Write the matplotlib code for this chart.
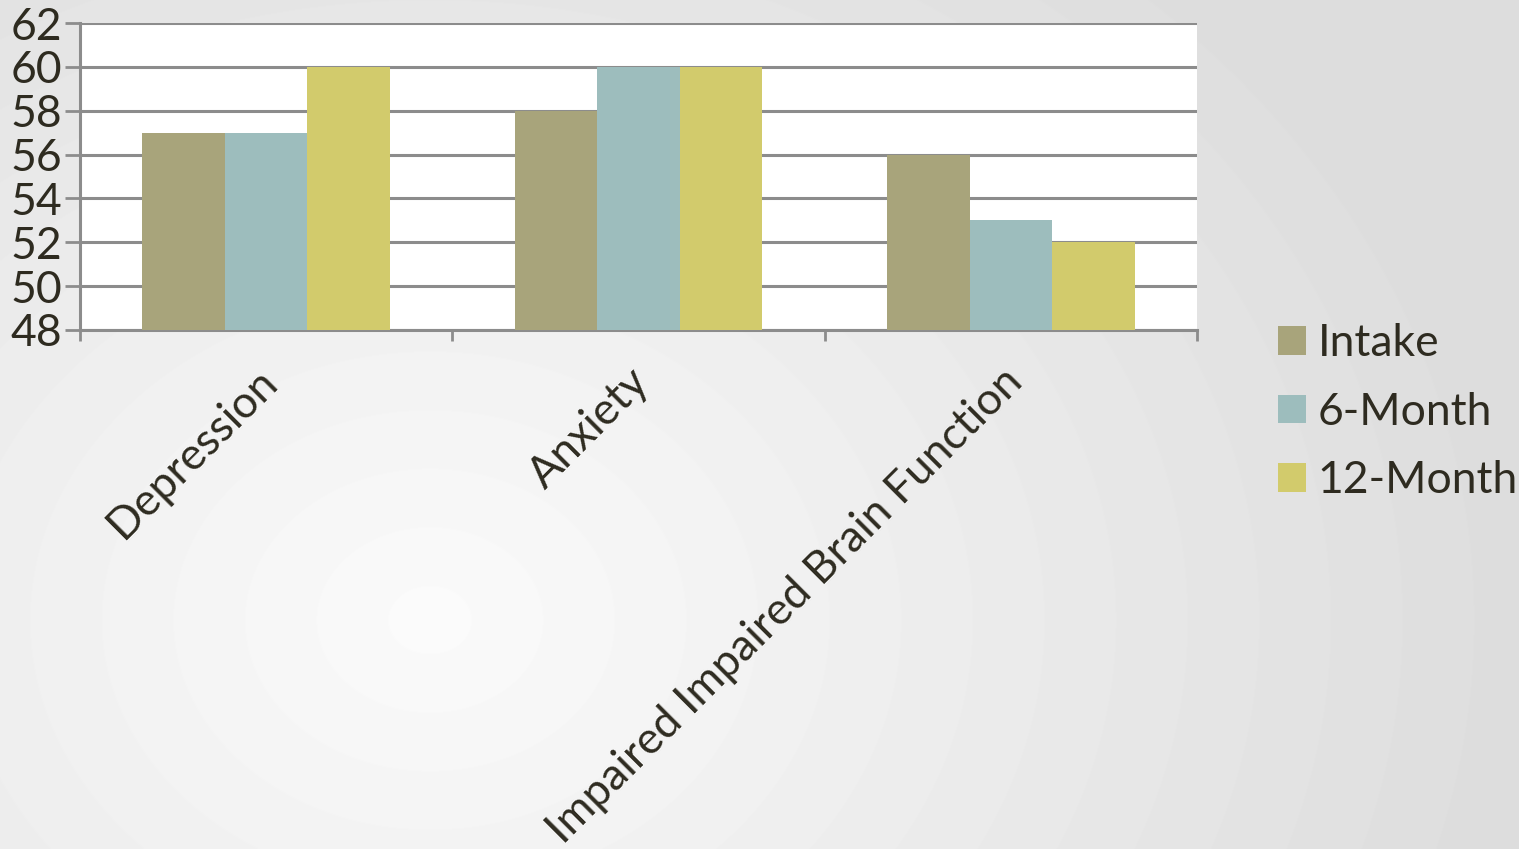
import numpy as np
import matplotlib.pyplot as plt
import matplotlib.transforms as mtransforms
from matplotlib.patches import Patch

categories = ['Depression', 'Anxiety', 'Impaired Impaired Brain Function']
series = ['Intake', '6-Month', '12-Month']
intake = [57, 58, 56]
six_month = [57, 60, 53]
twelve_month = [60, 60, 52]
colors = ['#a8a47b', '#9dbdbd', '#d2cb6c']
yticks = [48, 50, 52, 54, 56, 58, 60, 62]

plt.rcParams['font.family'] = ['Lato', 'DejaVu Sans']
text_color = '#2e2b20'
fs = 32

fig = plt.figure(figsize=(15.19, 8.49), dpi=100)

# soft radial gray backdrop
bg = fig.add_axes([0, 0, 1, 1])
yy, xx = np.mgrid[0:849, 0:1519]
r = np.sqrt(((xx - 430) / 1100.0) ** 2 + ((yy - 620) / 900.0) ** 2)
shade = 0.985 - 0.12 * np.clip(r, 0, 1)
bg.imshow(shade, cmap='gray', vmin=0, vmax=1, aspect='auto', extent=[0, 1, 0, 1])
bg.set_axis_off()

ax = fig.add_axes([80 / 1519, 1 - 330 / 849, (1197 - 80) / 1519, (330 - 23) / 849])
ax.set_facecolor('white')

x = np.arange(len(categories))
w = 0.222
for i, (vals, c) in enumerate(zip([intake, six_month, twelve_month], colors)):
    ax.bar(x + (i - 1) * w, np.array(vals) - 48, width=w, bottom=48, color=c, zorder=3)

ax.set_xlim(-0.5, 2.5)
ax.set_ylim(48, 62)
ax.set_yticks(yticks)
ax.set_yticklabels([str(t) for t in yticks], fontsize=fs, color=text_color)
ax.yaxis.grid(True, color='#8c8c8c', linewidth=2.2, zorder=1)
ax.tick_params(axis='y', length=11, width=2, color='#8c8c8c', pad=2)

ax.set_xticks([-0.5, 0.5, 1.5, 2.5], minor=False)
ax.set_xticklabels([])
ax.tick_params(axis='x', length=8, width=2, color='#8c8c8c')
ax.set_xticks(x, minor=True)
ax.set_xticklabels(categories, minor=True, rotation=45, ha='right',
                   rotation_mode='anchor', fontsize=fs, color=text_color)
ax.tick_params(axis='x', which='minor', length=0, pad=22)
shift = mtransforms.ScaledTranslation(-10 / 100, 0, fig.dpi_scale_trans)
for lbl in ax.get_xticklabels(minor=True):
    lbl.set_transform(lbl.get_transform() + shift)

for side in ['top', 'right']:
    ax.spines[side].set_visible(False)
for side in ['left', 'bottom']:
    ax.spines[side].set_color('#8c8c8c')
    ax.spines[side].set_linewidth(2.2)

handles = [Patch(facecolor=c, label=s) for c, s in zip(colors, series)]
leg = fig.legend(handles=handles, loc='upper left', bbox_to_anchor=(1278 / 1519, 1 - 323 / 849),
                 frameon=False, fontsize=fs, handlelength=0.62, handleheight=0.62,
                 handletextpad=0.27, labelspacing=0.62, borderpad=0, borderaxespad=0)
for t in leg.get_texts():
    t.set_color(text_color)

fig.savefig('out.png', dpi=100)
